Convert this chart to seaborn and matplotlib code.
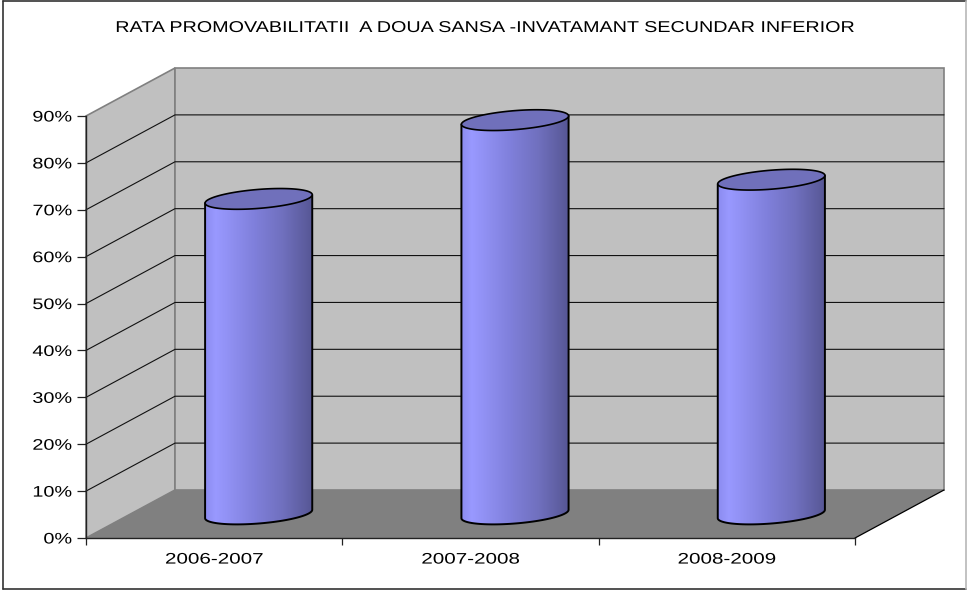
import numpy as np
import pandas as pd
import matplotlib
matplotlib.use("Agg")
import matplotlib.pyplot as plt
import seaborn as sns
from matplotlib.patches import Polygon, Rectangle
from matplotlib.lines import Line2D
from matplotlib.patheffects import AbstractPathEffect
from matplotlib.transforms import Affine2D
from matplotlib.ticker import PercentFormatter

# chart data
years = ["2006-2007", "2007-2008", "2008-2009"]
rates = [67.2, 84.0, 71.3]
y_ticks = [0, 10, 20, 30, 40, 50, 60, 70, 80, 90]
title = "RATA PROMOVABILITATII  A DOUA SANSA -INVATAMANT SECUNDAR INFERIOR"


class StretchX(AbstractPathEffect):
    # the original text is Arial pulled wide, so widen the glyphs around one x pixel
    def __init__(self, sx, anchor):
        super().__init__()
        self.sx = sx
        self.anchor = anchor

    def draw_path(self, renderer, gc, tpath, affine, rgbFace=None):
        wide = affine + Affine2D().translate(-self.anchor, 0).scale(self.sx, 1).translate(self.anchor, 0)
        renderer.draw_path(gc, tpath, wide, rgbFace)


sns.set_style("white")
plt.rcParams["font.family"] = ["Liberation Sans", "DejaVu Sans"]

W, H = 967, 591
fig = plt.figure(figsize=(W / 100, H / 100), dpi=100)
# front plane of the fake 3d box, in pixels
left, right, top, bottom = 86, 855, 116, 538
ax = fig.add_axes([left / W, 1 - bottom / H, (right - left) / W, (bottom - top) / H])

df = pd.DataFrame({"year": years, "rate": rates})
sns.barplot(data=df, x="year", y="rate", width=0.418, ax=ax, color="#7070bb", zorder=3)

ax.set_xlim(-0.5, 2.5)
ax.set_ylim(0, 90)
ax.patch.set_alpha(0)

# depth of the box in data units
dx = 89 / ((right - left) / 3)
dy = 48 / ((bottom - top) / 90)
x0, x1 = -0.5, 2.5

side = Polygon([(x0, 0), (x0, 90), (x0 + dx, 90 + dy), (x0 + dx, dy)], closed=True,
               fc="#c0c0c0", ec="#808080", lw=1.2, clip_on=False, zorder=0)
back = Polygon([(x0 + dx, dy), (x0 + dx, 90 + dy), (x1 + dx, 90 + dy), (x1 + dx, dy)], closed=True,
               fc="#c0c0c0", ec="#808080", lw=1.2, clip_on=False, zorder=0)
floor = Polygon([(x0, 0), (x1, 0), (x1 + dx, dy), (x0 + dx, dy)], closed=True,
                fc="#808080", ec="none", clip_on=False, zorder=1)
ax.add_patch(side)
ax.add_patch(back)
ax.add_patch(floor)
ax.plot([x1, x1 + dx], [0, dy], color="black", lw=0.9, clip_on=False, zorder=1.5)

# gridlines run along the side wall and the back wall, the top one is only the wall edge
for t in y_ticks[1:-1]:
    ax.plot([x0, x0 + dx, x1 + dx], [t, t + dy, t + dy], color="#111111", lw=0.8,
            clip_on=False, zorder=2, solid_joinstyle="miter")

# turn the seaborn bars into cylinders standing mid-depth
shift = Affine2D().translate(dx / 2, dy / 2) + ax.transData
semi_minor = 9.5 / ((bottom - top) / 90)
tilt = 4.2 / ((bottom - top) / 90)
grad = np.linspace(0, 1, 256)
c_stops = np.array([[140, 140, 240], [153, 153, 255], [128, 128, 220], [112, 112, 190], [86, 86, 148]]) / 255
g_pos = [0, 0.1, 0.45, 0.72, 1]
g_img = np.stack([np.interp(grad, g_pos, c_stops[:, i]) for i in range(3)], axis=1)[None, :, :]
t_low = np.linspace(np.pi, 2 * np.pi, 60)
t_full = np.linspace(0, 2 * np.pi, 120)

for bar in list(ax.patches):
    if not isinstance(bar, Rectangle) or bar.get_height() == 0:
        continue
    bx, bw, bh = bar.get_x(), bar.get_width(), bar.get_height()
    bar.set_visible(False)
    cx, a = bx + bw / 2, bw / 2

    low_x = cx + a * np.cos(t_low)
    low_y = semi_minor * np.sin(t_low) + tilt * np.cos(t_low)
    up_x = cx + a * np.cos(t_full)
    up_y = bh + semi_minor * np.sin(t_full) + tilt * np.cos(t_full)

    outline = np.vstack([np.column_stack([low_x, low_y]),
                         [[cx + a, bh + tilt]], [[cx - a, bh - tilt]]])
    body = Polygon(outline, closed=True, fc="none", ec="black", lw=1.4,
                   transform=shift, clip_on=False, zorder=5, joinstyle="round")
    ax.add_patch(body)
    img = ax.imshow(g_img, extent=[bx, bx + bw, -20, bh + 20], aspect="auto",
                    transform=shift, zorder=4, interpolation="bilinear")
    img.set_clip_path(Polygon(outline, closed=True, transform=shift))
    ax.add_patch(Polygon(np.column_stack([up_x, up_y]), closed=True, fc="#7070bb", ec="black",
                         lw=1.2, transform=shift, clip_on=False, zorder=6))

ax.set_xlim(-0.5, 2.5)
ax.set_ylim(0, 90)

# axes
ax.set_xlabel("")
ax.set_ylabel("")
ax.set_yticks(y_ticks)
ax.yaxis.set_major_formatter(PercentFormatter(xmax=100, decimals=0))
ax.tick_params(axis="y", left=True, length=6.5, width=0.9, color="#222222", labelsize=11,
               labelcolor="black", pad=3.5)
ax.set_xticks([0, 1, 2])
ax.set_xticklabels(years)
ax.set_xticks([-0.5, 0.5, 1.5, 2.5], minor=True)
ax.tick_params(axis="x", which="major", bottom=False, labelsize=11, labelcolor="black", pad=7)
ax.tick_params(axis="x", which="minor", bottom=True, length=5, width=0.9, color="#222222")
for name, spine in ax.spines.items():
    spine.set_visible(name in ("left", "bottom"))
    spine.set_color("#222222")
    spine.set_linewidth(1)
    spine.set_zorder(3)

# stretched tick labels
fig.canvas.draw()
for lab in ax.get_yticklabels():
    lab.set_path_effects([StretchX(1.3, 72.5)])
for lab, pos in zip(ax.get_xticklabels(), [0, 1, 2]):
    lab.set_path_effects([StretchX(1.35, ax.transData.transform((pos, 0))[0])])

# chart frame: dark on three sides, pale on the right
frame_x0, frame_x1 = 2.5 / W, 966 / W
frame_y0, frame_y1 = 1 - 588.5 / H, 1 - 0.8 / H
for xs, ys, col in [([frame_x0, frame_x0], [frame_y0, frame_y1], "#333333"),
                    ([frame_x0, frame_x1], [frame_y1, frame_y1], "#333333"),
                    ([frame_x0, frame_x1], [frame_y0, frame_y0], "#333333"),
                    ([frame_x1, frame_x1], [frame_y0, frame_y1], "#b8b8b8")]:
    fig.add_artist(Line2D(xs, ys, transform=fig.transFigure, color=col, lw=1.2))

title_x = 485.5
fig.text(title_x / W, 1 - 27.5 / H, title, ha="center", va="center", fontsize=11.3, color="black",
         path_effects=[StretchX(1.258, title_x)])

fig.savefig("out.png", dpi=100)
